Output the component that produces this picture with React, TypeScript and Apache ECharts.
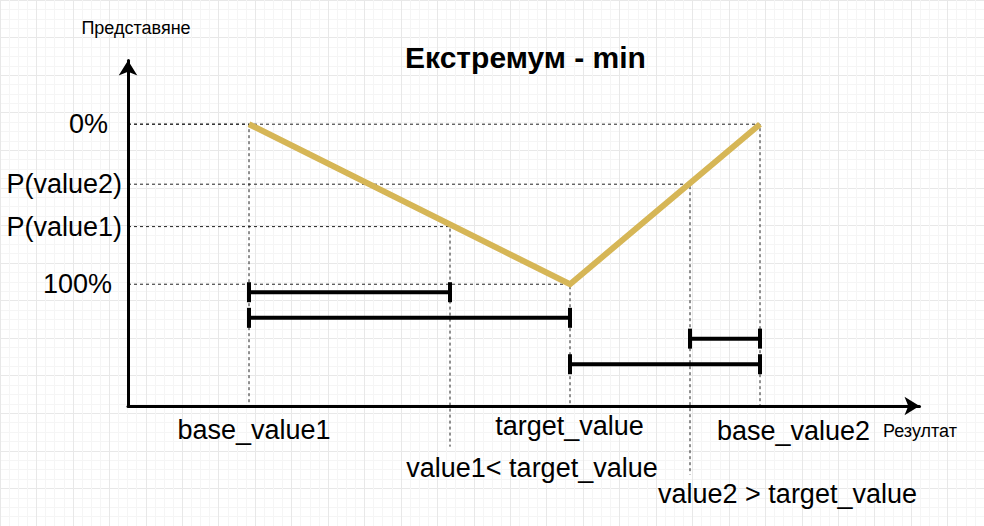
import React, { useEffect, useRef } from 'react';
import * as echarts from 'echarts';

// Points on the "Резултат" axis (x) and their "Представяне" values (y, %)
const pointNames = ['base_value1', 'value1', 'target_value', 'value2', 'base_value2'];
const resultValues = [12.1, 32.2, 44.2, 56.2, 63.2];
const performanceValues = [0, 64, 100, 37.5, 0];
// the performance curve goes through these points
const curvePoints = ['base_value1', 'target_value', 'base_value2'];
// dashed guides drop down to these levels (below the axis for value1 / value2)
const guideEndLevels = [176.1, 201.5, 176.1, 219, 176.1];

// y-axis tick labels
const yTickValues = [0, 37.5, 64, 100];
const yTickLabels = ['0%', 'P(value2)', 'P(value1)', '100%'];

// measurement bars
const barFrom = ['base_value1', 'base_value1', 'value2', 'target_value'];
const barTo = ['value1', 'target_value', 'base_value2', 'base_value2'];
const barLevels = [105, 121, 134, 150];

// annotation texts
const titleText = 'Екстремум - min';
const yAxisName = 'Представяне';
const xAxisName = 'Резултат';
const bottomLabels = ['base_value1', 'target_value', 'base_value2', 'value1< target_value', 'value2 > target_value'];

const FONT = '"Liberation Sans", Arial, Helvetica, sans-serif';
const X_MAX = 79.15;
const Y_MIN = -39.8;
const Y_MAX = 176.1;

export default function App() {
  const ref = useRef<HTMLDivElement>(null);

  useEffect(() => {
    if (!ref.current) return;
    const chart = echarts.init(ref.current, undefined, { renderer: 'svg' });
    const idx = (n: string) => pointNames.indexOf(n);

    const guideSeries = pointNames.map((n, i) => ({
      type: 'line',
      name: 'guide-' + n,
      data: [
        [0, performanceValues[i]],
        [resultValues[i], performanceValues[i]],
        [resultValues[i], guideEndLevels[i]],
      ],
      showSymbol: false,
      symbol: 'none',
      clip: false,
      silent: true,
      z: 3,
      lineStyle: { color: '#222', width: 1, type: [3, 3] },
    }));

    const curveSeries = {
      type: 'line',
      name: 'curve',
      data: curvePoints.map((n) => [resultValues[idx(n)], performanceValues[idx(n)]]),
      symbol: 'none',
      showSymbol: false,
      silent: true,
      z: 5,
      lineStyle: { color: '#D6B656', width: 6, join: 'miter', cap: 'butt' },
    };

    const barSeries = barFrom.map((f, i) => ({
      type: 'line',
      name: 'bar-' + i,
      data: [
        [resultValues[idx(f)], barLevels[i]],
        [resultValues[idx(barTo[i])], barLevels[i]],
      ],
      symbol: 'rect',
      symbolSize: [4, 20],
      showSymbol: true,
      silent: true,
      z: 6,
      itemStyle: { color: '#000' },
      lineStyle: { color: '#000', width: 4 },
    }));

    const bgAxisCommon = {
      axisLine: { show: false },
      axisTick: { show: false },
      axisLabel: { show: false },
      splitLine: { show: true, lineStyle: { color: '#e8e8e8', width: 1 } },
      minorTick: { show: false, splitNumber: 4 },
      minorSplitLine: { show: true, lineStyle: { color: '#f5f5f5', width: 1 } },
      z: 0,
    };

    const bottomPos = [
      [254, 430],
      [569.5, 426],
      [793.5, 431],
      [532, 468],
      [787.5, 494],
    ];

    const textEl = (text: string, x: number, y: number, font: string, align = 'center') => ({
      type: 'text',
      x,
      y,
      z: 20,
      style: {
        text,
        fill: '#000',
        font,
        align,
        verticalAlign: 'middle',
        textAlign: align,
        textVerticalAlign: 'middle',
      },
    });

    const LS = 27;

    chart.setOption({
      animation: false,
      backgroundColor: '#ffffff',
      grid: [
        { left: 128, top: 60.5, right: 64.5, bottom: 120 },
        { left: -33, top: -4, width: 1080, height: 560 },
      ],
      xAxis: [
        {
          type: 'value',
          gridIndex: 0,
          min: 0,
          max: X_MAX,
          z: 10,
          axisLine: {
            show: true,
            onZero: false,
            symbol: ['none', 'arrow'],
            symbolSize: [14, 15],
            lineStyle: { color: '#000', width: 3 },
          },
          axisTick: { show: false },
          axisLabel: { show: false },
          splitLine: { show: false },
        },
        { type: 'value', gridIndex: 1, min: 0, max: 1080, interval: 40, ...bgAxisCommon },
      ],
      yAxis: [
        {
          type: 'value',
          gridIndex: 0,
          inverse: true,
          min: Y_MIN,
          max: Y_MAX,
          z: 10,
          axisLine: {
            show: true,
            onZero: false,
            symbol: ['none', 'arrow'],
            symbolSize: [14, 15],
            lineStyle: { color: '#000', width: 3 },
          },
          axisTick: { show: false },
          splitLine: { show: false },
          axisLabel: {
            show: true,
            customValues: yTickValues,
            margin: 6,
            color: '#000',
            fontSize: LS,
            fontFamily: FONT,
            formatter: (v: number) => {
              let best = 0;
              yTickValues.forEach((t, i) => {
                if (Math.abs(t - v) < Math.abs(yTickValues[best] - v)) best = i;
              });
              return `{l${best}|${yTickLabels[best]}}`;
            },
            rich: {
              l0: { fontSize: LS, fontFamily: FONT, color: '#000', padding: [0, 14, 0, 0] },
              l1: { fontSize: LS, fontFamily: FONT, color: '#000' },
              l2: { fontSize: LS, fontFamily: FONT, color: '#000' },
              l3: { fontSize: LS, fontFamily: FONT, color: '#000', padding: [0, 10, 0, 0] },
            },
          },
        },
        { type: 'value', gridIndex: 1, inverse: true, min: 0, max: 560, interval: 40, ...bgAxisCommon },
      ],
      graphic: [
        textEl(titleText, 525.5, 57, `bold 30px ${FONT}`),
        textEl(yAxisName, 136, 28, `18px ${FONT}`),
        textEl(xAxisName, 883, 431, `18px ${FONT}`, 'left'),
        ...bottomLabels.map((t, i) => textEl(t, bottomPos[i][0], bottomPos[i][1], `${LS}px ${FONT}`)),
      ],
      series: [...guideSeries, curveSeries, ...barSeries],
    });

    return () => chart.dispose();
  }, []);

  return (
    <div
      ref={ref}
      style={{ position: 'absolute', left: 0, top: 0, width: 984, height: 526 }}
    />
  );
}
